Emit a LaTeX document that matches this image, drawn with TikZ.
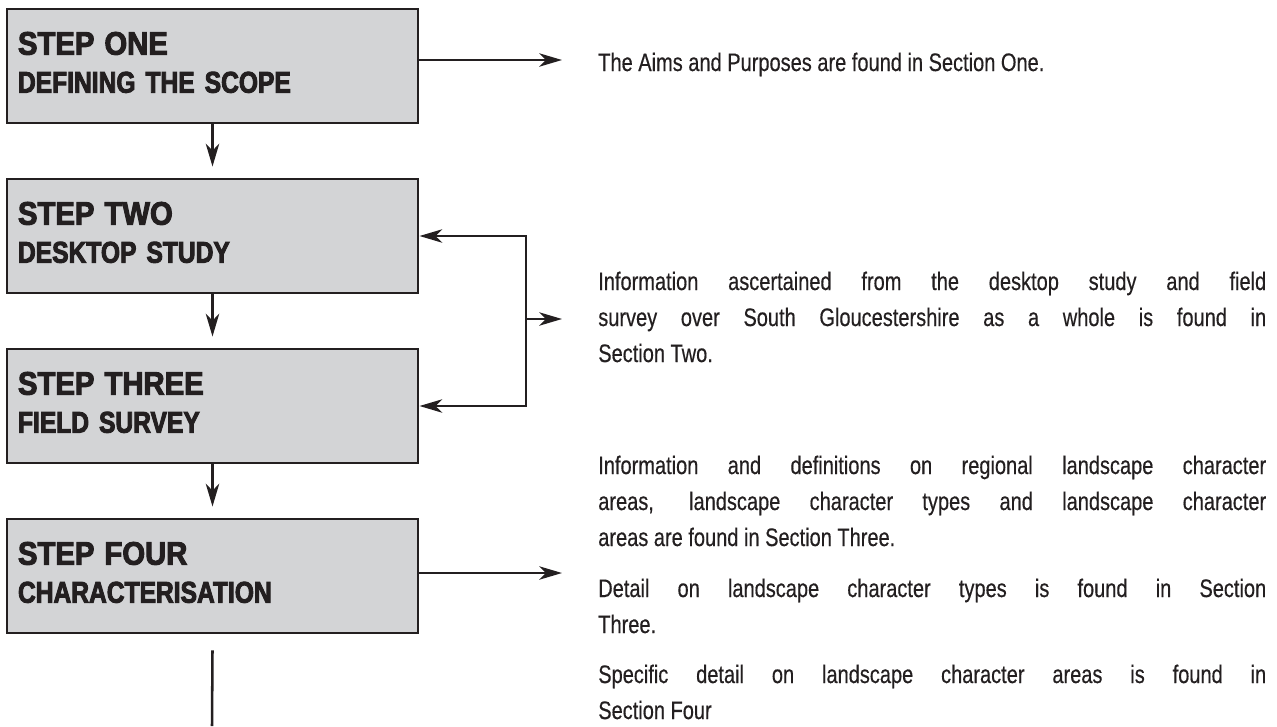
\documentclass[tikz,border=0pt]{standalone}
\usepackage{xcolor}
\usepackage{fontspec}
\setmainfont{Liberation Sans}[FakeStretch=0.79,FakeBold=0.4]
\newfontfamily\headfont{Liberation Sans}[FakeStretch=0.9,FakeBold=3]
\newfontfamily\subheadfont{Liberation Sans}[FakeStretch=0.82,FakeBold=3]
\usetikzlibrary{arrows.meta,calc}
\definecolor{lcink}{HTML}{231F20}
\definecolor{lcgrey}{HTML}{D3D4D6}
\tikzset{
  lc step/.style={
    rectangle,
    minimum width=308.25pt,
    minimum height=85.5pt,
    line width=2.2pt,
    draw=lcink,
    fill=lcgrey,
    text=lcink,
    font=\subheadfont\bfseries\fontsize{22.5}{28.5}\selectfont,
    text width=291.75pt,
    inner xsep=8.25pt,
    align=left,
    text height=0pt,
    text depth=17pt,
  },
  lc note/.style={
    anchor=base west,
    text width=501pt,
    align=justify,
    inner sep=0pt,
    text=lcink,
    font=\fontsize{19}{27}\selectfont,
  },
  lc line/.style={line width=1.9pt, draw=lcink},
  lc arrow/.style={lc line, -{Stealth[length=17pt,width=10pt,inset=5pt]}},
  lc both/.style={lc line, {Stealth[length=17pt,width=10pt,inset=5pt]}-{Stealth[length=17pt,width=10pt,inset=5pt]}},
}
\newcommand{\steptitle}[1]{{\headfont\bfseries\fontsize{24.4}{28.5}\selectfont #1}}

\begin{document}
\begin{tikzpicture}[x=0.75pt,y=-0.75pt]
  \useasboundingbox (0,0) rectangle (1277,726);

  % the four steps
  \node[lc step] (s1) at (212.5,66)  {\steptitle{STEP ONE}\\DEFINING THE SCOPE};
  \node[lc step] (s2) at (212.5,236) {\steptitle{STEP TWO}\\DESKTOP STUDY};
  \node[lc step] (s3) at (212.5,406) {\steptitle{STEP THREE}\\FIELD SURVEY};
  \node[lc step] (s4) at (212.5,576) {\steptitle{STEP FOUR}\\CHARACTERISATION};

  % notes on the right
  \node[lc note] (p1) at (598,71) {The Aims and Purposes are found in Section One.};
  \node[lc note] (p2) at (598,290) {Information ascertained from the desktop study and field\linebreak
    survey over South Gloucestershire as a whole is found in\linebreak Section Two.};
  \node[lc note] (p3) at (598,474) {Information and definitions on regional landscape character\linebreak
    areas, landscape character types and landscape character\linebreak areas are found in Section Three.};
  \node[lc note] (p4) at (598,597) {Detail on landscape character types is found in Section\linebreak Three.};
  \node[lc note] (p5) at (598,683) {Specific detail on landscape character areas is found in\linebreak Section Four};

  \coordinate (t1) at (562,60);
  \coordinate (jx) at (526,319);
  \coordinate (t2) at (562,319);
  \coordinate (t4) at (562,573);
  \coordinate (exit) at (212,726);

  % flow down
  \draw[lc arrow, shorten >=8.25pt] (s1) -- (s2);
  \draw[lc arrow, shorten >=8.25pt] (s2) -- (s3);
  \draw[lc arrow, shorten >=8.25pt] (s3) -- (s4);
  \draw[lc line] (s4.south) ++(0,16) -- (exit);

  % links to the notes
  \draw[lc arrow] (s1.east |- t1) -- (t1);
  \draw[lc both] (s2.east) -| (jx) |- (s3.east);
  \draw[lc arrow] (jx) -- (t2);
  \draw[lc arrow] (s4.east |- t4) -- (t4);
\end{tikzpicture}
\end{document}
